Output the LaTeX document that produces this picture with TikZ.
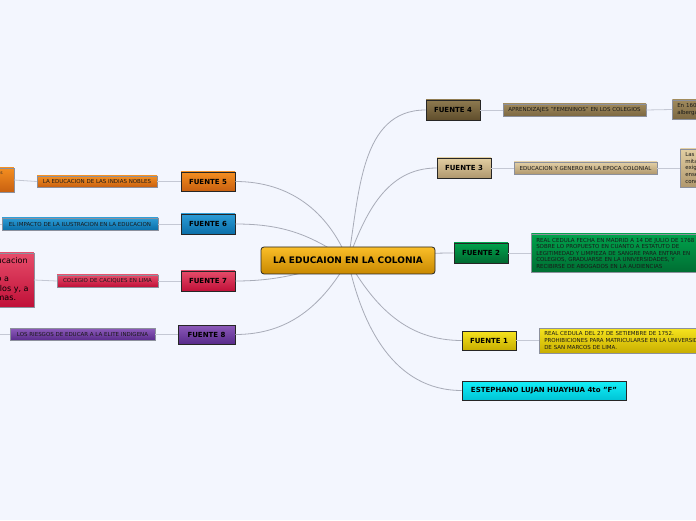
\documentclass[tikz,border=0pt]{standalone}
\usepackage{fontspec}
\setmainfont{DejaVu Sans}
\definecolor{bgc}{RGB}{243,246,254}
\definecolor{edgec}{RGB}{168,172,184}
\definecolor{linkc}{RGB}{196,200,212}
\definecolor{subline}{RGB}{140,144,156}
\definecolor{ct}{RGB}{250,190,40}
\definecolor{cb}{RGB}{200,136,0}
\definecolor{f4t}{RGB}{142,122,80}
\definecolor{f4b}{RGB}{96,78,44}
\definecolor{s4t}{RGB}{160,138,92}
\definecolor{s4b}{RGB}{124,104,66}
\definecolor{f3t}{RGB}{226,206,162}
\definecolor{f3b}{RGB}{176,152,110}
\definecolor{f2t}{RGB}{0,162,76}
\definecolor{f2b}{RGB}{0,104,48}
\definecolor{f1t}{RGB}{246,228,30}
\definecolor{f1b}{RGB}{200,174,0}
\definecolor{est}{RGB}{20,240,248}
\definecolor{esb}{RGB}{0,196,214}
\definecolor{f5t}{RGB}{244,142,32}
\definecolor{f5b}{RGB}{200,96,16}
\definecolor{f6t}{RGB}{44,156,214}
\definecolor{f6b}{RGB}{10,110,168}
\definecolor{f7t}{RGB}{230,76,106}
\definecolor{f7b}{RGB}{192,16,56}
\definecolor{f8t}{RGB}{140,90,186}
\definecolor{f8b}{RGB}{88,42,138}
\begin{document}
\begin{tikzpicture}[x=1pt,y=1pt,
  fuente/.style={draw=black!85, line width=0.7pt, minimum width=54pt, minimum height=20pt, inner sep=0pt, font=\fontsize{7}{8}\selectfont\bfseries, text=black},
  sub/.style={draw=subline, line width=0.5pt, inner sep=0pt, minimum height=12pt, font=\fontsize{5.5}{6.5}\selectfont, text=black!90},
  leaf/.style={draw=subline, line width=0.5pt, inner xsep=4pt, inner ysep=2pt, align=left, text=black!90},
  medge/.style={draw=edgec, line width=0.8pt},
  link/.style={draw=linkc, line width=0.8pt}]
\fill[bgc] (0,0) rectangle (696,520);
\useasboundingbox (0,0) rectangle (696,520);
\coordinate (c0) at (348,259.5);
% nodes
\node[fuente, top color=f4t, bottom color=f4b] (f4) at (453,410) {FUENTE 4};
\node[fuente, top color=f3t, bottom color=f3b] (f3) at (464,352) {FUENTE 3};
\node[fuente, top color=f2t, bottom color=f2b] (f2) at (481,267) {FUENTE 2};
\node[fuente, top color=f1t, bottom color=f1b, minimum height=19pt] (f1) at (489,179.5) {FUENTE 1};
\node[fuente, top color=est, bottom color=esb, minimum width=164pt, minimum height=19pt] (es) at (544,129.5) {ESTEPHANO LUJAN HUAYHUA 4to "F"};
\node[fuente, top color=f5t, bottom color=f5b, minimum height=19pt] (f5) at (208,338.5) {FUENTE 5};
\node[fuente, top color=f6t, bottom color=f6b] (f6) at (208,296) {FUENTE 6};
\node[fuente, top color=f7t, bottom color=f7b] (f7) at (208,239) {FUENTE 7};
\node[fuente, top color=f8t, bottom color=f8b, minimum width=57pt, minimum height=19pt] (f8) at (206.5,185.5) {FUENTE 8};
% central edges
\draw[medge] (c0) to[out=80,in=180] (f4.west);
\draw[medge] (c0) to[out=70,in=180] (f3.west);
\draw[medge] (c0) to[out=5,in=180] (f2.west);
\draw[medge] (c0) to[out=-60,in=180] (f1.west);
\draw[medge] (c0) to[out=-78,in=180] (es.west);
\draw[medge] (c0) to[out=112,in=0] (f5.east);
\draw[medge] (c0) to[out=145,in=0] (f6.east);
\draw[medge] (c0) to[out=195,in=0] (f7.east);
\draw[medge] (c0) to[out=240,in=0] (f8.east);
% center node
\node[draw=black!85, line width=0.8pt, rounded corners=3pt, top color=ct, bottom color=cb, minimum width=174pt, minimum height=27pt, inner sep=0pt, font=\fontsize{9}{10}\selectfont\bfseries] (c) at (c0) {LA EDUCAION EN LA COLONIA};
% sub nodes
\node[sub, top color=s4t, bottom color=s4b, minimum width=143pt] (s4) at (574.5,410) {APRENDIZAJES "FEMENINOS" EN LOS COLEGIOS};
\node[sub, top color=f3t!95!white, bottom color=f3b, minimum width=143pt] (s3) at (585.5,352) {EDUCACION Y GENERO EN LA EPOCA COLONIAL};
\node[sub, top color=f2t, bottom color=f2b!90!f2t, anchor=west, minimum width=200pt, minimum height=38pt, text width=190pt, inner xsep=5pt, align=left, font=\fontsize{5.5}{6.5}\selectfont] (s2) at (531,267) {REAL CEDULA FECHA EN MADRID A 14 DE JULIO DE 1768\\SOBRE LO PROPUESTO EN CUANTO A ESTATUTO DE\\LEGITIMEDAD Y LIMPIEZA DE SANGRE PARA ENTRAR EN\\COLEGIOS, GRADUARSE EN LA UNIVERSIDADES, Y\\RECIBIRSE DE ABOGADOS EN LA AUDIENCIAS};
\node[sub, top color=f1t, bottom color=f1b, anchor=west, minimum width=200pt, minimum height=25pt, text width=190pt, inner xsep=5pt, align=left, font=\fontsize{5.5}{6.6}\selectfont] (s1) at (539,179.5) {REAL CEDULA DEL 27 DE SETIEMBRE DE 1752.\\PROHIBICIONES PARA MATRICULARSE EN LA UNIVERSIDAD\\DE SAN MARCOS DE LIMA.};
\node[sub, top color=f5t, bottom color=f5b, minimum width=120pt, minimum height=11pt] (s5) at (97,338.5) {LA EDUCACION DE LAS INDIAS NOBLES};
\node[sub, top color=f6t, bottom color=f6b, minimum width=156pt] (s6) at (80,296) {EL IMPACTO DE LA ILUSTRACION EN LA EDUCACION};
\node[sub, top color=f7t, bottom color=f7b, minimum width=101pt] (s7) at (107.5,239) {COLEGIO DE CACIQUES EN LIMA};
\node[sub, top color=f8t, bottom color=f8b, minimum width=145pt] (s8) at (82.5,185.5) {LOS RIESGOS DE EDUCAR A LA ELITE INDIGENA};
% leaves
\node[leaf, top color=s4t, bottom color=s4b, anchor=west, minimum width=60pt, minimum height=19pt, text width=50pt, font=\fontsize{5.5}{7}\selectfont] (l4) at (672,410.5) {En 160\\alberga};
\node[leaf, top color=f3t, bottom color=f3b, anchor=west, minimum width=60pt, minimum height=38pt, text width=50pt, font=\fontsize{5.5}{6.8}\selectfont] (l3) at (680,352) {Las\\mita\\exig\\ense\\conc};
\node[draw=subline, line width=0.5pt, top color=f5t, bottom color=f5b, anchor=east, minimum width=60pt, minimum height=24pt, inner sep=0pt] (l5) at (14,340) {};
\node[font=\fontsize{4.5}{5}\selectfont, text=black!85, anchor=base east, inner sep=0pt] (l5t) at (3,345) {s};
\node[draw=subline, line width=0.5pt, top color=f7t, bottom color=f7b, anchor=east, minimum width=60pt, minimum height=54pt, inner sep=0pt] (l7) at (34,240) {};
\node[font=\fontsize{8}{9.3}\selectfont, text=black, anchor=north west, align=left, inner sep=0pt] (l7t) at (-3.5,263) {ucacion\\[9.3pt]o a\\rlos y, a\\mas.};
% links
\draw[link] (f4.east) -- (s4.west);
\draw[link] (s4.east) -- (l4.west);
\draw[link] (f3.east) -- (s3.west);
\draw[link] (s3.east) -- (l3.west);
\draw[link] (f2.east) -- (s2.west);
\draw[link] (f1.east) -- (s1.west);
\draw[link] (f5.west) -- (s5.east);
\draw[link] (s5.west) -- (l5.east);
\draw[link] (f6.west) -- (s6.east);
\draw[link] (s6.west) -- (0,296);
\draw[link] (f7.west) -- (s7.east);
\draw[link] (s7.west) -- (l7.east);
\draw[link] (f8.west) -- (s8.east);
\draw[link] (s8.west) -- (0,185.5);
\end{tikzpicture}
\end{document}
